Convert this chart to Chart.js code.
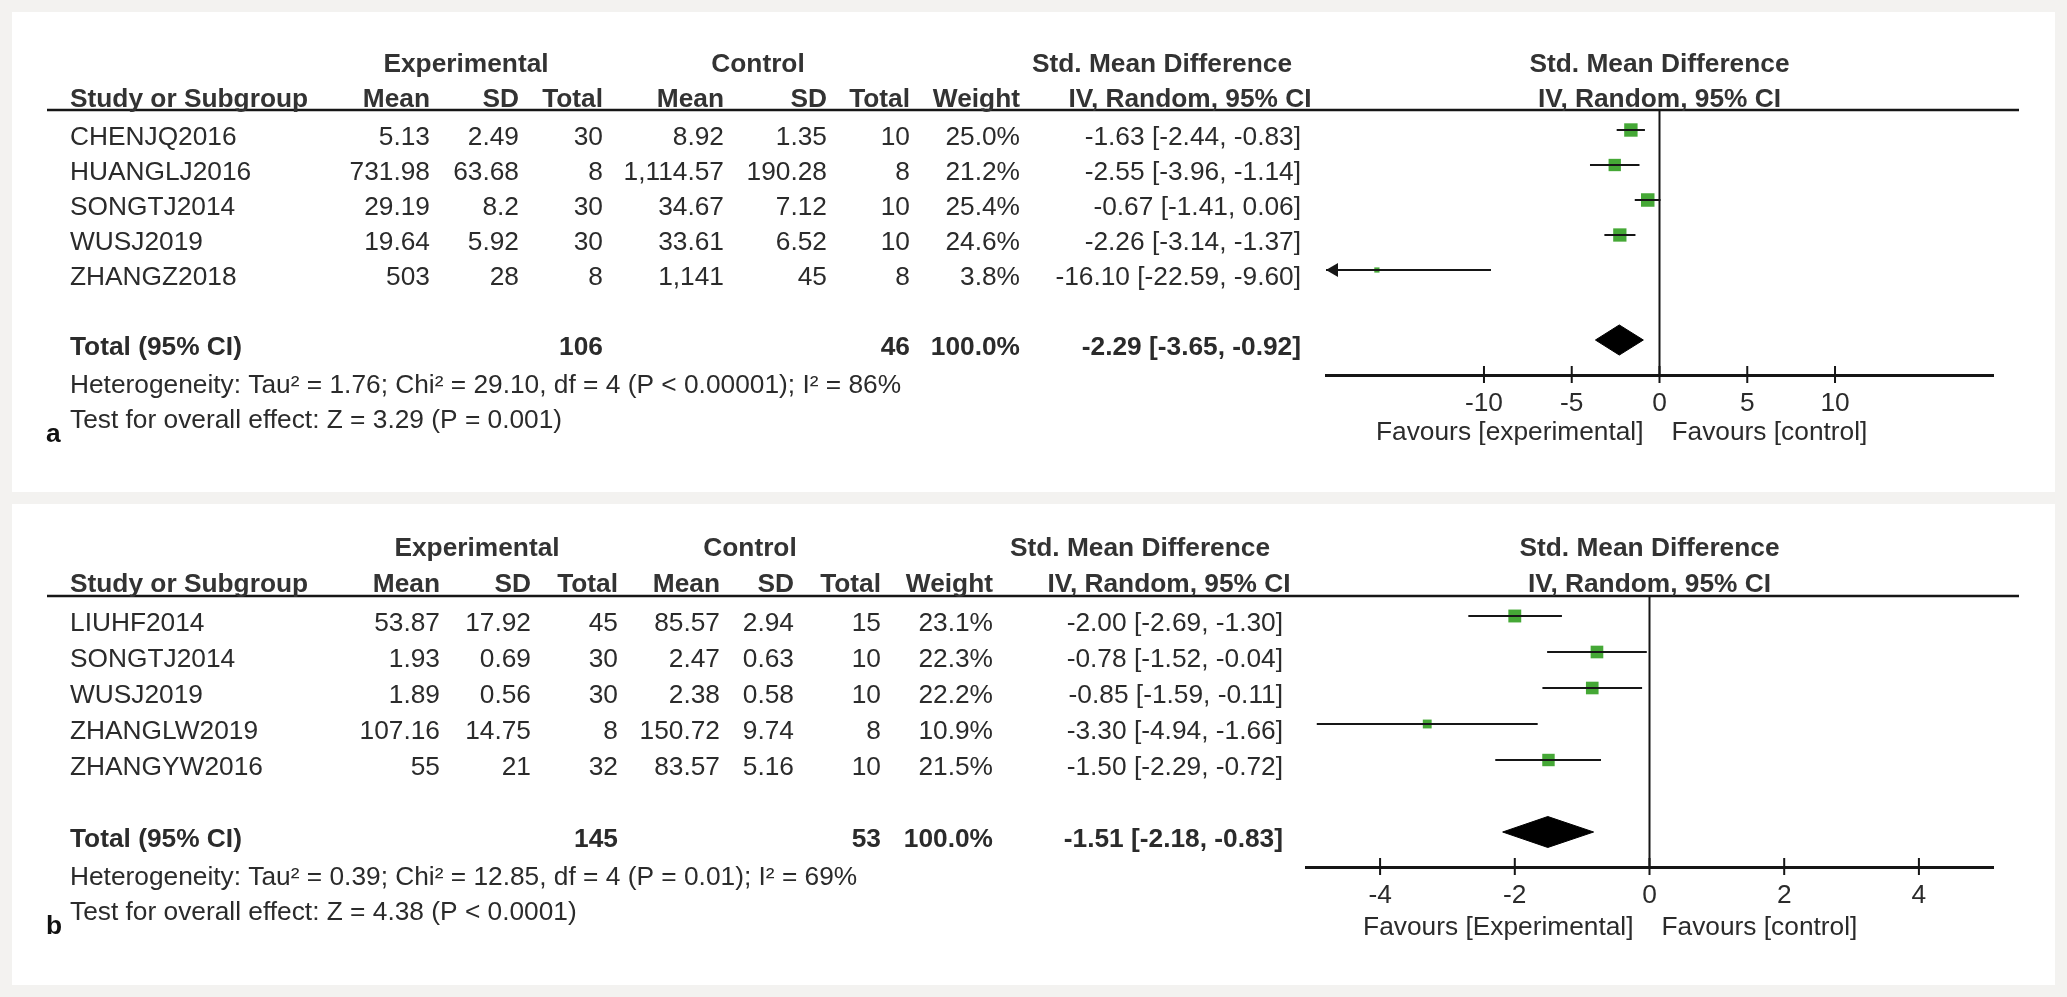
<!DOCTYPE html>
<html>
<head>
<meta charset="utf-8">
<title>Forest plots</title>
<script src="https://cdn.jsdelivr.net/npm/chart.js@4.4.0/dist/chart.umd.min.js"></script>
<style>
  body { margin: 0; width: 2067px; height: 997px; background: #f3f2f0; position: relative; overflow: hidden; }
  .panel { position: absolute; left: 12px; width: 2043px; background: #fff; }
  #panelA { top: 12px; height: 480px; }
  #panelB { top: 504px; height: 481px; }
  canvas { display: block; }
</style>
</head>
<body>
<div class="panel" id="panelA"><canvas id="chartA" width="2043" height="480"></canvas></div>
<div class="panel" id="panelB"><canvas id="chartB" width="2043" height="481"></canvas></div>
<script>
// =================== DATA: PANEL A ===================
const studiesA = ["CHENJQ2016", "HUANGLJ2016", "SONGTJ2014", "WUSJ2019", "ZHANGZ2018"];
const expMeanA = [5.13, 731.98, 29.19, 19.64, 503];
const expSdA = [2.49, 63.68, 8.2, 5.92, 28];
const expTotalA = [30, 8, 30, 30, 8];
const ctlMeanA = [8.92, 1114.57, 34.67, 33.61, 1141];
const ctlSdA = [1.35, 190.28, 7.12, 6.52, 45];
const ctlTotalA = [10, 8, 10, 10, 8];
const weightA = [25.0, 21.2, 25.4, 24.6, 3.8];
const smdA = [-1.63, -2.55, -0.67, -2.26, -16.10];
const loA = [-2.44, -3.96, -1.41, -3.14, -22.59];
const hiA = [-0.83, -1.14, 0.06, -1.37, -9.60];
const overallA = [-2.29, -3.65, -0.92];   // estimate, lower, upper
const sumsA = [106, 46];
const hetA = "Heterogeneity: Tau\u00b2 = 1.76; Chi\u00b2 = 29.10, df = 4 (P < 0.00001); I\u00b2 = 86%";
const testA = "Test for overall effect: Z = 3.29 (P = 0.001)";
const favoursA = ["Favours [experimental]", "Favours [control]"];
const ticksA = [-10, -5, 0, 5, 10];
const rangeA = [-19, 19];

// =================== DATA: PANEL B ===================
const studiesB = ["LIUHF2014", "SONGTJ2014", "WUSJ2019", "ZHANGLW2019", "ZHANGYW2016"];
const expMeanB = [53.87, 1.93, 1.89, 107.16, 55];
const expSdB = [17.92, 0.69, 0.56, 14.75, 21];
const expTotalB = [45, 30, 30, 8, 32];
const ctlMeanB = [85.57, 2.47, 2.38, 150.72, 83.57];
const ctlSdB = [2.94, 0.63, 0.58, 9.74, 5.16];
const ctlTotalB = [15, 10, 10, 8, 10];
const weightB = [23.1, 22.3, 22.2, 10.9, 21.5];
const smdB = [-2.00, -0.78, -0.85, -3.30, -1.50];
const loB = [-2.69, -1.52, -1.59, -4.94, -2.29];
const hiB = [-1.30, -0.04, -0.11, -1.66, -0.72];
const overallB = [-1.51, -2.18, -0.83];
const sumsB = [145, 53];
const hetB = "Heterogeneity: Tau\u00b2 = 0.39; Chi\u00b2 = 12.85, df = 4 (P = 0.01); I\u00b2 = 69%";
const testB = "Test for overall effect: Z = 4.38 (P < 0.0001)";
const favoursB = ["Favours [Experimental]", "Favours [control]"];
const ticksB = [-4, -2, 0, 2, 4];
const rangeB = [-5.1, 5.1];

// =================== STYLE / LAYOUT ===================
const FONT = '"Liberation Sans", Arial, Helvetica, sans-serif';
const FONT_PX = 26.3;
const TEXT = "#2b2b2b";
const INK = "#161616";
const GREEN = "#45a836";
const SQUARE_K = 2.68;      // square side = k * sqrt(weight)
const DIAMOND_H = 0.43;     // half height of summary diamond, in rows
const ARROW_R = 8;          // arrow head radius, px

const layoutA = { tag: "a", h: 480, head1: 53, head2: 88, rule: 98, row0: 118, step: 35, axis: 363,
  left: 1314, right: 1981, cols: [418, 507, 591, 712, 815, 898, 1008, 1289],
  expC: 454, ctlC: 746, smd1: 1150, smd2: 1178, favY: 421 };
const layoutB = { tag: "b", h: 481, head1: 45, head2: 81, rule: 92, row0: 112, step: 36, axis: 363,
  left: 1294, right: 1981, cols: [428, 519, 606, 708, 782, 869, 981, 1271],
  expC: 465, ctlC: 738, smd1: 1128, smd2: 1157, favY: 424 };

// =================== HELPERS ===================
function num(v) {
  return v.toLocaleString("en-US", { maximumFractionDigits: 2 });
}
function ci(est, lo, hi) {
  return `${est.toFixed(2)} [${lo.toFixed(2)}, ${hi.toFixed(2)}]`;
}
function put(ctx, str, x, y, align, bold, color) {
  ctx.font = (bold ? "bold " : "") + FONT_PX + "px " + FONT;
  ctx.textAlign = align;
  ctx.textBaseline = "middle";
  ctx.fillStyle = color || TEXT;
  ctx.fillText(str, x, y);
}

// =================== TABLE + DECORATION PLUGIN ===================
function tablePlugin(d, L) {
  return {
    id: "table" + L.tag,
    afterDraw(chart) {
      const ctx = chart.ctx;
      const xs = chart.scales.x, ys = chart.scales.y;
      const area = chart.chartArea;
      const dy = 7.5;
      const c = L.cols;
      ctx.save();

      // rule under the header
      ctx.strokeStyle = INK;
      ctx.lineWidth = 2.5;
      ctx.beginPath();
      ctx.moveTo(35, L.rule);
      ctx.lineTo(2007, L.rule);
      ctx.stroke();

      // tick marks crossing the axis
      ctx.lineWidth = 2;
      ctx.beginPath();
      xs.ticks.forEach(t => {
        const px = xs.getPixelForValue(t.value);
        ctx.moveTo(px, area.bottom - 9);
        ctx.lineTo(px, area.bottom + 8);
      });
      ctx.stroke();

      // headers
      put(ctx, "Experimental", L.expC, L.head1, "center", true, "#333");
      put(ctx, "Control", L.ctlC, L.head1, "center", true, "#333");
      put(ctx, "Std. Mean Difference", L.smd1, L.head1, "center", true, "#333");
      put(ctx, "Std. Mean Difference", (area.left + area.right) / 2, L.head1, "center", true, "#333");
      put(ctx, "Study or Subgroup", 58, L.head2, "left", true, "#333");
      ["Mean", "SD", "Total", "Mean", "SD", "Total", "Weight"].forEach((h, i) =>
        put(ctx, h, c[i], L.head2, "right", true, "#333"));
      put(ctx, "IV, Random, 95% CI", L.smd2, L.head2, "center", true, "#333");
      put(ctx, "IV, Random, 95% CI", (area.left + area.right) / 2, L.head2, "center", true, "#333");

      // study rows
      d.studies.forEach((s, i) => {
        const y = ys.getPixelForValue(i) + dy;
        put(ctx, s, 58, y, "left");
        put(ctx, num(d.expMean[i]), c[0], y, "right");
        put(ctx, num(d.expSd[i]), c[1], y, "right");
        put(ctx, String(d.expTotal[i]), c[2], y, "right");
        put(ctx, num(d.ctlMean[i]), c[3], y, "right");
        put(ctx, num(d.ctlSd[i]), c[4], y, "right");
        put(ctx, String(d.ctlTotal[i]), c[5], y, "right");
        put(ctx, d.weight[i].toFixed(1) + "%", c[6], y, "right");
        put(ctx, ci(d.smd[i], d.lo[i], d.hi[i]), c[7], y, "right");
      });

      // total row
      const ty = ys.getPixelForValue(d.studies.length + 1) + dy;
      put(ctx, "Total (95% CI)", 58, ty, "left", true);
      put(ctx, String(d.sums[0]), c[2], ty, "right", true);
      put(ctx, String(d.sums[1]), c[5], ty, "right", true);
      put(ctx, "100.0%", c[6], ty, "right", true);
      put(ctx, ci(d.overall[0], d.overall[1], d.overall[2]), c[7], ty, "right", true);

      put(ctx, d.het, 58, 374, "left");
      put(ctx, d.test, 58, 409, "left");
      put(ctx, L.tag, 34, 423, "left", true, "#111");

      // favours labels either side of the null line
      const zero = xs.getPixelForValue(0);
      put(ctx, d.favours[0], zero - 16, L.favY, "right");
      put(ctx, d.favours[1], zero + 12, L.favY, "left");
      ctx.restore();
    }
  };
}

// =================== BUILD ONE PANEL ===================
function makePanel(canvasId, d, L) {
  const [xMin, xMax] = d.range;
  const yMin = (L.rule - L.row0) / L.step;
  const yMax = (L.axis - L.row0) / L.step;
  const totalRow = d.studies.length + 1;
  // shift so the arrow tip sits on the end of the scale
  const arrowShift = ARROW_R * (xMax - xMin) / (L.right - L.left);
  const datasets = [];

  // null line
  datasets.push({
    type: "line", data: [{ x: 0, y: yMin }, { x: 0, y: yMax }],
    borderColor: INK, borderWidth: 2, pointRadius: 0, clip: false
  });

  // confidence intervals
  d.studies.forEach((s, i) => {
    datasets.push({
      type: "line",
      data: [{ x: Math.max(d.lo[i], xMin), y: i }, { x: Math.min(d.hi[i], xMax), y: i }],
      borderColor: INK, borderWidth: 2, pointRadius: 0
    });
  });

  // arrows for intervals running off the scale
  const arrows = [];
  d.studies.forEach((s, i) => {
    if (d.lo[i] < xMin) arrows.push({ x: xMin + arrowShift, y: i, r: -90 });
    if (d.hi[i] > xMax) arrows.push({ x: xMax - arrowShift, y: i, r: 90 });
  });
  if (arrows.length) {
    datasets.push({
      data: arrows, showLine: false, pointStyle: "triangle",
      pointRadius: ARROW_R, pointRotation: arrows.map(a => a.r),
      backgroundColor: INK, borderColor: INK, borderWidth: 0, clip: false
    });
  }

  // weighted squares
  datasets.push({
    data: d.smd.map((v, i) => ({ x: v, y: i })),
    showLine: false, pointStyle: "rect",
    pointRadius: d.weight.map(w => SQUARE_K * Math.sqrt(w) / Math.SQRT2),
    backgroundColor: GREEN, borderColor: GREEN, borderWidth: 0
  });

  // summary diamond
  const [est, lo, hi] = d.overall;
  datasets.push({
    type: "line",
    data: [
      { x: lo, y: totalRow }, { x: est, y: totalRow - DIAMOND_H },
      { x: hi, y: totalRow }, { x: est, y: totalRow + DIAMOND_H }, { x: lo, y: totalRow }
    ],
    borderColor: "#000", backgroundColor: "#000", borderWidth: 1,
    pointRadius: 0, fill: "shape", tension: 0
  });

  return new Chart(document.getElementById(canvasId), {
    type: "scatter",
    data: { datasets },
    options: {
      responsive: false,
      animation: false,
      devicePixelRatio: 1,
      events: [],
      layout: { padding: { left: L.left, right: 2043 - L.right, top: L.rule, bottom: 0 } },
      plugins: { legend: { display: false }, tooltip: { enabled: false } },
      scales: {
        x: {
          type: "linear", min: xMin, max: xMax,
          afterBuildTicks: scale => { scale.ticks = d.ticks.map(v => ({ value: v })); },
          afterFit: scale => { scale.height = L.h - L.axis; },
          grid: { display: false, drawTicks: false },
          border: { display: true, color: INK, width: 3 },
          ticks: {
            autoSkip: false, maxRotation: 0, padding: 13, color: TEXT,
            font: { family: FONT, size: FONT_PX },
            callback: v => String(v)
          }
        },
        y: { type: "linear", reverse: true, min: yMin, max: yMax, display: false }
      }
    },
    plugins: [tablePlugin(d, L)]
  });
}

// =================== INIT ===================
const panelA = {
  studies: studiesA, expMean: expMeanA, expSd: expSdA, expTotal: expTotalA,
  ctlMean: ctlMeanA, ctlSd: ctlSdA, ctlTotal: ctlTotalA, weight: weightA,
  smd: smdA, lo: loA, hi: hiA, overall: overallA, sums: sumsA,
  het: hetA, test: testA, favours: favoursA, ticks: ticksA, range: rangeA
};
const panelB = {
  studies: studiesB, expMean: expMeanB, expSd: expSdB, expTotal: expTotalB,
  ctlMean: ctlMeanB, ctlSd: ctlSdB, ctlTotal: ctlTotalB, weight: weightB,
  smd: smdB, lo: loB, hi: hiB, overall: overallB, sums: sumsB,
  het: hetB, test: testB, favours: favoursB, ticks: ticksB, range: rangeB
};

makePanel("chartA", panelA, layoutA);
makePanel("chartB", panelB, layoutB);
</script>
</body>
</html>
